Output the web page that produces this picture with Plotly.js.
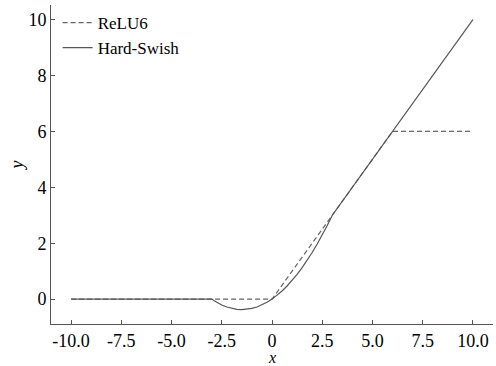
<!DOCTYPE html>
<html><head><meta charset="utf-8">
<script src="https://cdn.plot.ly/plotly-3.0.1.min.js"></script>
<style>body{margin:0;background:#fff}#c{width:496px;height:366px}</style>
</head><body><div id="c"></div>
<script>
const reluX = [-10, 0, 6, 10];
const reluY = [0, 0, 6, 6];
const hsX = [-10, -3, -2.875, -2.75, -2.5, -2.25, -2, -1.75, -1.5, -1.25, -1, -0.75, -0.5, -0.25, 0, 0.25, 0.5, 0.75, 1, 1.25, 1.5, 1.75, 2, 2.25, 2.5, 2.75, 3, 10];
const hsY = [0, 0, -0.0599, -0.1146, -0.2083, -0.2813, -0.3333, -0.3646, -0.375, -0.3646, -0.3333, -0.2813, -0.2083, -0.1146, 0, 0.1354, 0.2917, 0.4688, 0.6667, 0.8854, 1.125, 1.3854, 1.6667, 1.9688, 2.2917, 2.6354, 3, 10];
const xTickVals = [-10, -7.5, -5, -2.5, 0, 2.5, 5, 7.5, 10];
const xTickText = ["-10.0", "-7.5", "-5.0", "-2.5", "0", "2.5", "5.0", "7.5", "10.0"];
const yTickVals = [0, 2, 4, 6, 8, 10];
const xTitle = "x";

const font = {family: "Liberation Serif, Times New Roman, serif", size: 18, color: "#000"};
const legendFont = {family: "Liberation Serif, Times New Roman, serif", size: 17, color: "#000"};
const xTitleFont = {family: "Liberation Serif, Times New Roman, serif", size: 16, color: "#000"};
const traces = [
  {x: reluX, y: reluY, mode: "lines", name: "ReLU6", line: {color: "#666", width: 1.2, dash: "5px,3px"}},
  {x: hsX, y: hsY, mode: "lines", name: "Hard-Swish", line: {color: "#555", width: 1.2}}
];
const layout = {
  width: 496, height: 366,
  margin: {l: 51, r: 3, t: 5, b: 42},
  paper_bgcolor: "#fff", plot_bgcolor: "#fff",
  font: font,
  showlegend: true,
  legend: {x: 0.015, y: 1.0, xanchor: "left", yanchor: "top", bgcolor: "rgba(0,0,0,0)", font: legendFont, tracegroupgap: 0, itemwidth: 30},
  xaxis: {
    range: [-11, 11], tickvals: xTickVals, ticktext: xTickText,
    showgrid: false, zeroline: false, showline: true, linecolor: "#555", linewidth: 1,
    ticks: "inside", ticklen: 4, tickcolor: "#555"
  },
  yaxis: {
    range: [-0.89, 10.52], tickvals: yTickVals,
    showgrid: false, zeroline: false, showline: true, linecolor: "#555", linewidth: 1,
    ticks: "inside", ticklen: 4, tickcolor: "#555",
    title: {text: "<i>y</i>", font: font, standoff: 0}
  },
  annotations: [{
    text: "<i>" + xTitle + "</i>", xref: "x", x: 0, yref: "paper", y: 0,
    yanchor: "top", yshift: -23, showarrow: false, font: xTitleFont
  }]
};
Plotly.newPlot("c", traces, layout, {staticPlot: true, displayModeBar: false});
</script></body></html>
